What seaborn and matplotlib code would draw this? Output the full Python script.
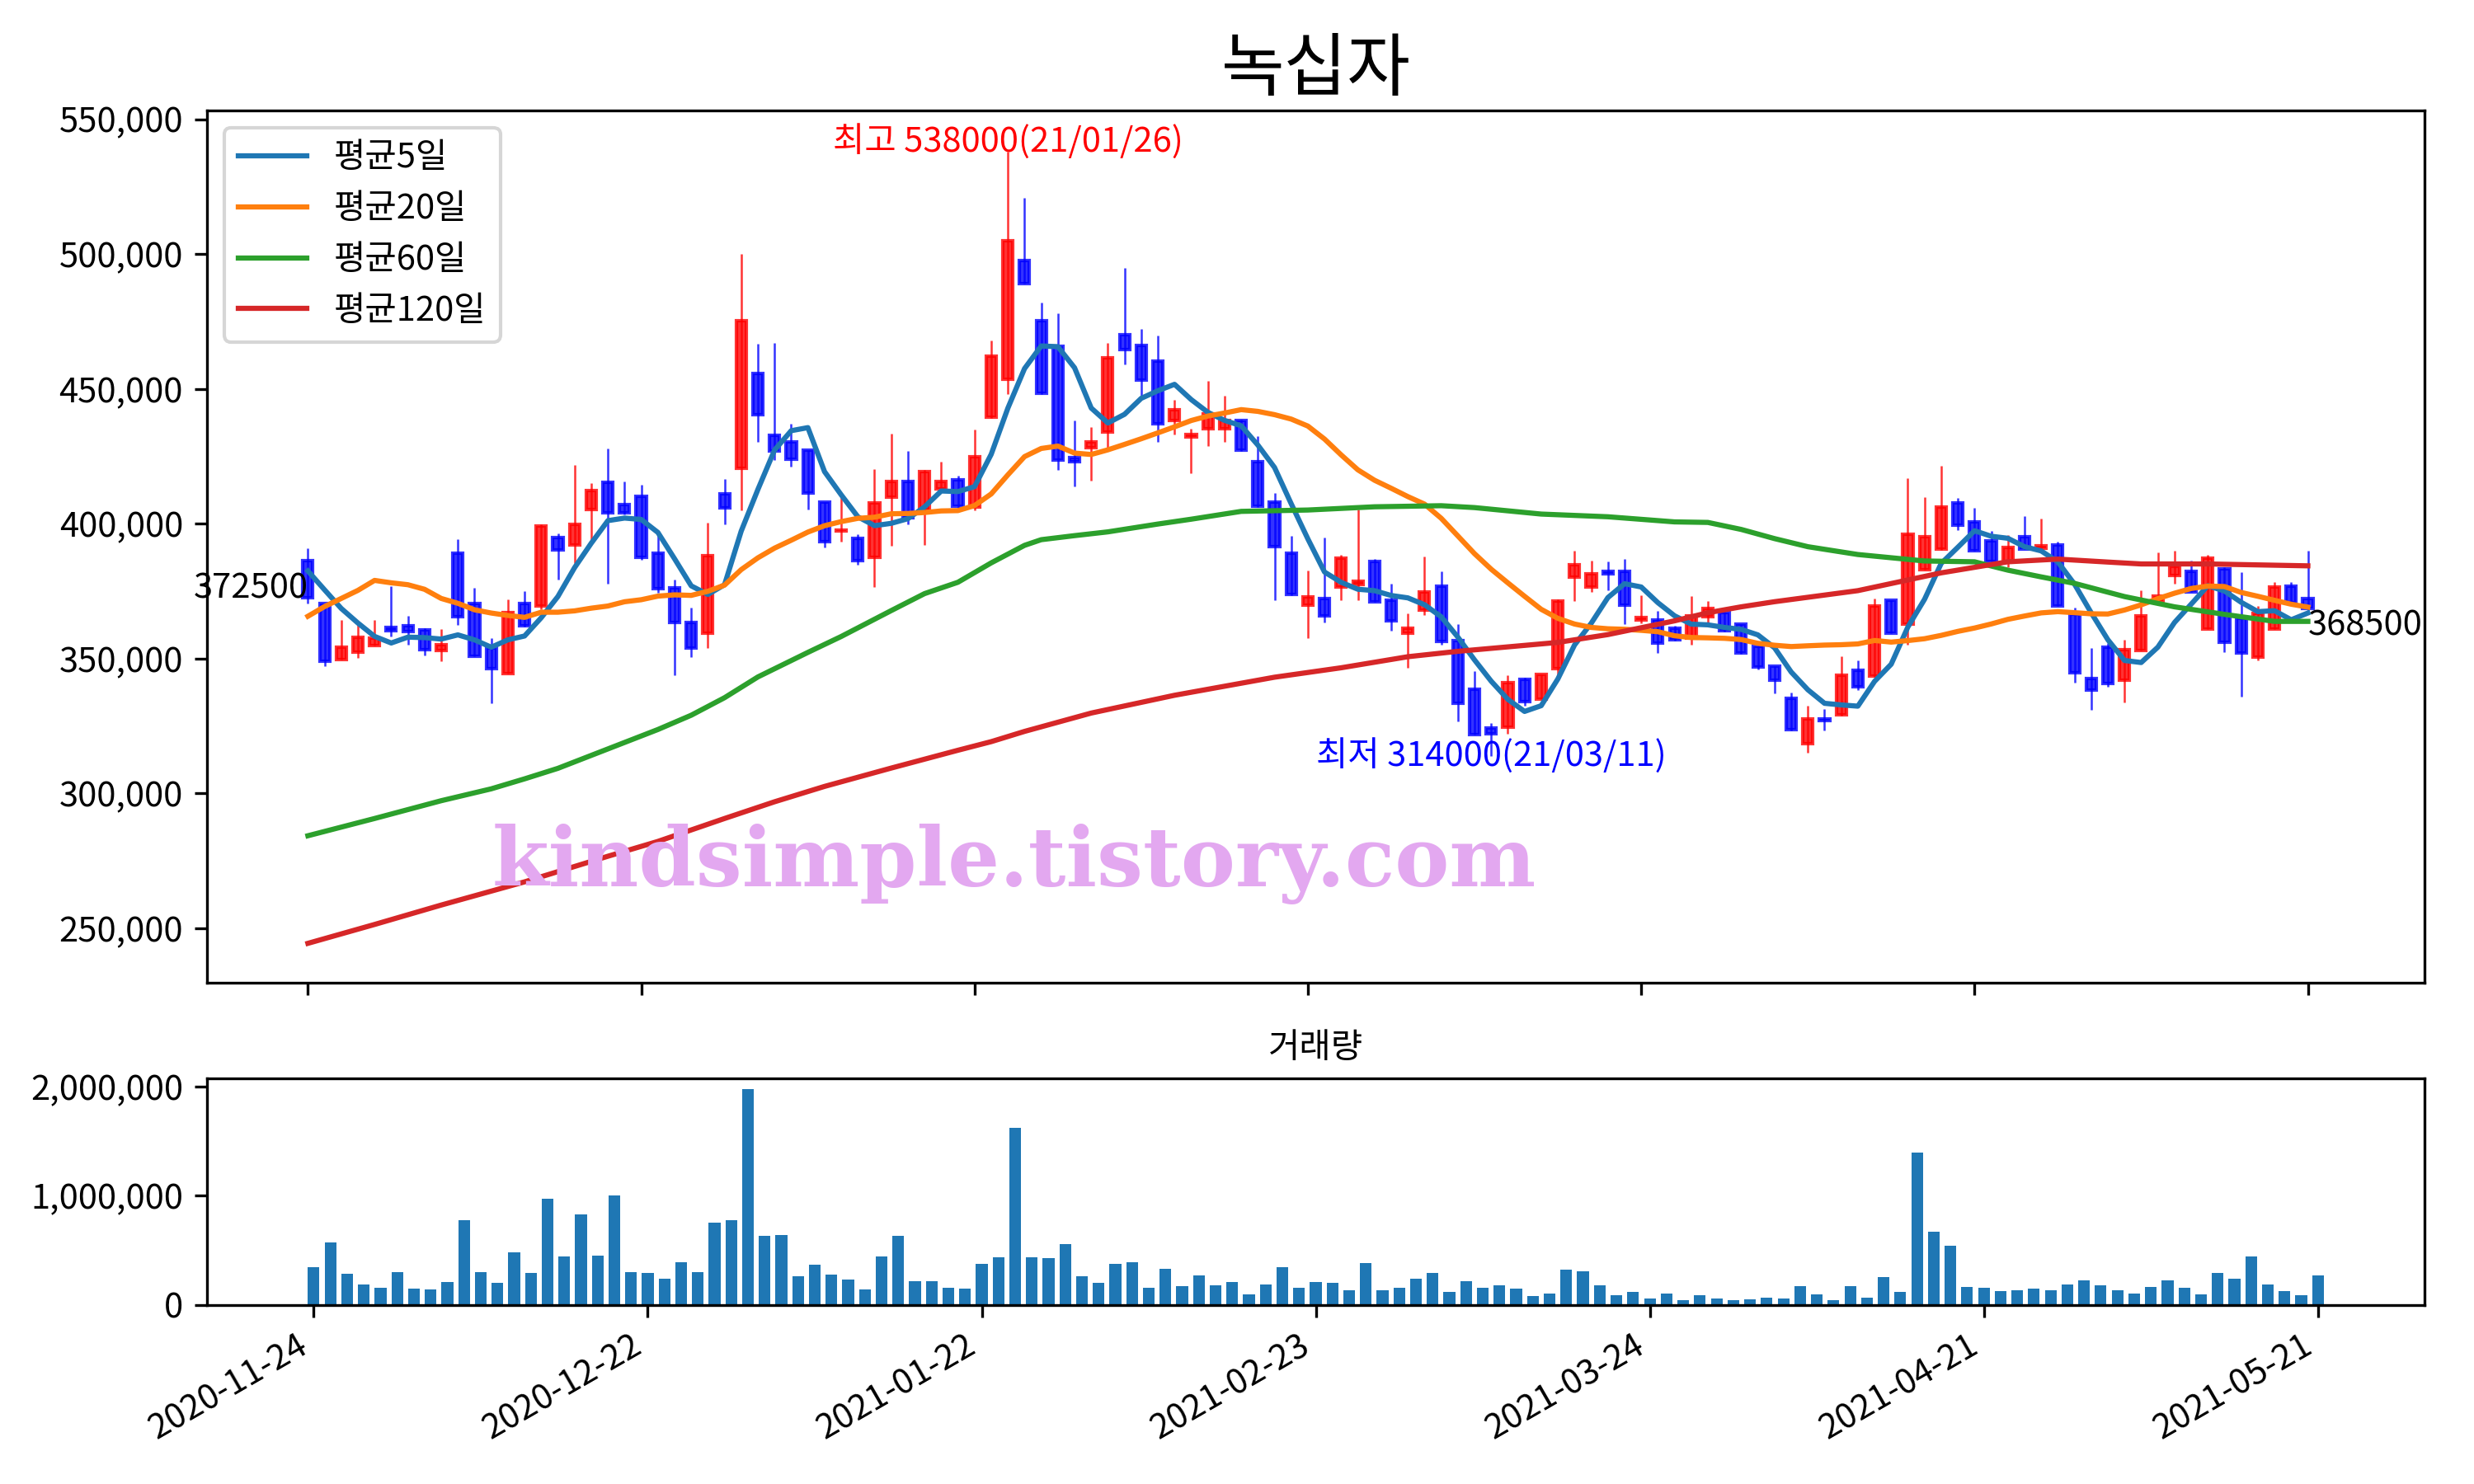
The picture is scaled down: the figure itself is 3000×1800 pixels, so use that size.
# -*- coding: utf-8 -*-
# 녹십자 일봉 + 이동평균 + 거래량
import numpy as np
import pandas as pd
import matplotlib
matplotlib.use("Agg")
import matplotlib.pyplot as plt
import seaborn as sns
from matplotlib.ticker import FuncFormatter

plt.rcParams['font.family'] = ['Noto Sans CJK KR', 'DejaVu Sans']
plt.rcParams['axes.unicode_minus'] = False

name = "녹십자"

# 거래일 (KRX 휴장일 제외)
holidays = ["2020-12-25", "2020-12-31", "2021-01-01", "2021-02-11",
            "2021-02-12", "2021-03-01", "2021-05-05", "2021-05-19"]
dates = pd.bdate_range("2020-11-24", "2021-05-21", freq="C", holidays=holidays)

opens = [386300, 370300, 349700, 352500, 354900, 361700, 362200, 360600, 353100, 389000,
         370300, 353900, 344300, 370300, 369400, 394800, 392000, 405300, 415400, 407100,
         410200, 389000, 376200, 363500, 359400, 411000, 420600, 455600, 432700, 430400,
         427200, 407900, 397200, 394500, 387700, 409900, 415800, 405400, 413000, 416300,
         406200, 439500, 453600, 497500, 475200, 465900, 424500, 428300, 434100, 470000,
         466200, 460400, 438200, 432200, 435200, 435400, 438200, 423100, 408100, 389000,
         369900, 372400, 376700, 377400, 385900, 371800, 359400, 368000, 376900, 356600,
         338700, 324400, 324700, 342400, 334900, 346400, 380300, 376700, 382300, 382300,
         364200, 364200, 361400, 357600, 365500, 367200, 362700, 354600, 347100, 335200,
         318600, 327500, 329300, 345600, 343400, 371600, 362700, 383100, 390500, 407800,
         400700, 393700, 385900, 395100, 390800, 392100, 366500, 342600, 354300, 342000,
         353000, 371300, 380800, 382500, 361100, 383300, 365000, 350700, 361100, 377000,
         372300]
highs = [390800, 370300, 364200, 362400, 364200, 376900, 365800, 361200, 361000, 394400,
         376300, 357600, 372100, 375100, 399900, 396300, 421700, 415000, 427900, 415800,
         414400, 395800, 379200, 368900, 400300, 416700, 500000, 466600, 467200, 437200,
         427200, 408100, 409900, 396200, 420400, 433400, 427000, 419900, 423100, 417700,
         434900, 467900, 538000, 520900, 482000, 478200, 438200, 435800, 467000, 494800,
         472400, 469700, 446100, 435400, 452900, 447400, 438600, 432400, 411300, 395600,
         382600, 394900, 388500, 405200, 386900, 377700, 366800, 387900, 382300, 362700,
         345400, 326200, 343800, 342800, 344100, 372100, 390000, 386400, 385900, 386900,
         373600, 367800, 362100, 373300, 371300, 367500, 362900, 354800, 347100, 337500,
         332600, 331300, 350900, 349200, 372300, 371600, 417000, 409800, 421600, 409600,
         406000, 397400, 395800, 402900, 401900, 393500, 368900, 354000, 355800, 357000,
         375200, 389400, 390000, 386200, 388400, 383800, 382100, 369600, 378400, 378400,
         390000]
lows = [370300, 347300, 349700, 350300, 354900, 358200, 355100, 351300, 348900, 362600,
        350900, 333400, 344300, 361800, 368400, 379300, 385400, 393800, 377900, 403500,
        386600, 374400, 343700, 350500, 353900, 399900, 405100, 430400, 423600, 421200,
        405400, 391200, 393500, 384900, 376700, 391700, 399900, 392200, 412000, 405800,
        404900, 439300, 448100, 489100, 448100, 419900, 414000, 416000, 428300, 459100,
        446800, 430400, 433100, 418800, 428700, 430400, 427000, 406200, 371700, 373500,
        357600, 363500, 371700, 371600, 370900, 360400, 346600, 366200, 355000, 326800,
        321700, 314000, 322200, 332400, 334900, 343600, 371300, 374700, 375400, 362900,
        363100, 352200, 356800, 355000, 363100, 360100, 351900, 346100, 337000, 323400,
        315000, 323400, 328800, 338300, 343100, 359400, 355000, 383100, 390300, 397600,
        390000, 385900, 383800, 390500, 390700, 369600, 341000, 331100, 339500, 333600,
        353000, 371300, 377700, 374700, 361100, 352500, 335900, 349200, 361100, 370600,
        367500]
closes = [372500, 349100, 354200, 357800, 357600, 360200, 360000, 353300, 355100, 365400,
          350900, 346400, 367000, 362200, 399300, 390200, 399900, 412300, 404100, 404100,
          387600, 375800, 363500, 353900, 388100, 405800, 475200, 440600, 427000, 424000,
          411500, 393500, 397600, 386300, 407600, 415800, 402100, 419500, 415800, 406500,
          424900, 462200, 505100, 489100, 448400, 423600, 423100, 430400, 461400, 464500,
          453200, 437200, 442300, 433100, 440900, 438200, 427200, 406500, 391500, 373700,
          373000, 365800, 387400, 378700, 371100, 364000, 361400, 374700, 356300, 333400,
          321700, 322000, 341000, 333900, 344100, 371300, 384900, 381300, 381500, 369900,
          365200, 355800, 357000, 366000, 368600, 360400, 352200, 346800, 342000, 323700,
          327500, 327100, 343800, 339700, 369600, 359400, 396100, 395100, 406300, 399600,
          390000, 385900, 391300, 390700, 391800, 369600, 344600, 338300, 340700, 353300,
          365800, 373100, 384100, 374700, 387400, 356000, 352200, 366800, 376400, 370600,
          368500]
volumes = [348000, 576000, 288000, 189000, 159000, 303000, 152000, 144000, 212000, 773000,
           303000, 205000, 485000, 295000, 970000, 447000, 826000, 455000, 1000000, 303000,
           295000, 242000, 394000, 303000, 750000, 780000, 1977000, 636000, 644000, 265000,
           371000, 280000, 235000, 144000, 447000, 636000, 220000, 220000, 159000, 152000,
           379000, 439000, 1621000, 439000, 432000, 561000, 265000, 205000, 379000, 394000,
           159000, 333000, 174000, 273000, 182000, 212000, 98000, 189000, 348000, 159000,
           212000, 205000, 136000, 386000, 136000, 159000, 242000, 295000, 121000, 220000,
           159000, 182000, 152000, 83000, 106000, 326000, 311000, 182000, 91000, 121000,
           61000, 106000, 45000, 91000, 61000, 45000, 53000, 68000, 61000, 174000,
           98000, 45000, 174000, 68000, 258000, 121000, 1394000, 667000, 545000, 167000,
           159000, 129000, 136000, 152000, 136000, 189000, 227000, 182000, 136000, 106000,
           167000, 227000, 159000, 98000, 295000, 242000, 447000, 189000, 129000, 91000,
           273000]

# 이동평균: 차트 시작 이전 구간이 필요한 앞부분은 그림에서 읽은 값
ma5_head = [382500, 375500, 368600, 363200]
ma20_head = [365700, 369300, 372300, 375300, 379000, 378100, 377400, 375700, 372300, 370500,
             368100, 366900, 366000, 365300, 367200, 367200, 367700, 368700, 369500]

# 60일/120일선은 그림에서 읽은 값 (거래일 순번, 값)
ma60_days = [0, 4, 8, 11, 13, 15, 18, 21, 23, 25, 27, 30, 32, 35, 37, 39, 41, 43, 44, 46,
             48, 51, 53, 56, 60, 64, 68, 70, 74, 78, 82, 84, 86, 88, 90, 93, 95, 97, 100,
             102, 104, 106, 109, 112, 115, 118, 120]
ma60_vals = [284300, 290700, 297300, 301700, 305400, 309300, 316500, 323700, 329000, 335500,
             343200, 352300, 358200, 367800, 374100, 378300, 385500, 392000, 394100, 395600,
             397000, 399900, 401700, 404600, 405100, 406300, 406700, 406000, 403600, 402600,
             400700, 400500, 397900, 394500, 391500, 388600, 387400, 386200, 385900,
             382800, 380300, 377900, 373000, 369200, 366400, 363800, 363800]
ma120_days = [0, 4, 8, 13, 18, 21, 25, 28, 31, 35, 39, 41, 43, 47, 52, 58, 62, 66, 69, 75,
              78, 82, 84, 86, 88, 93, 98, 102, 105, 108, 110, 114, 120]
ma120_vals = [244400, 251400, 258600, 267200, 276700, 282200, 290700, 296900, 302600, 309400,
              316000, 319200, 323000, 329800, 336400, 343100, 346600, 350700, 352700, 356000,
              358900, 364000, 367000, 369200, 371100, 375200, 381800, 385900, 386900, 385800,
              385100, 385100, 384400]

df = pd.DataFrame({"Open": opens, "High": highs, "Low": lows,
                   "Close": closes, "Volume": volumes}, index=dates)
df["x"] = np.arange(len(df))

ma5 = df["Close"].rolling(5).mean()
ma5.iloc[:len(ma5_head)] = ma5_head
ma20 = df["Close"].rolling(20).mean()
ma20.iloc[:len(ma20_head)] = ma20_head

fig = plt.figure(figsize=(10, 6), dpi=300)
ax = fig.add_axes([0.0837, 0.3378, 0.8963, 0.5878])
ax2 = fig.add_axes([0.0837, 0.1207, 0.8963, 0.1526])

# 캔들
up = df["Close"] >= df["Open"]
ccol = np.where(up, "r", "b")
ax.vlines(df["x"], df["Low"], df["High"], colors=ccol, linewidth=0.6, alpha=0.8)
ax.bar(df["x"], (df["Close"] - df["Open"]).abs(),
       bottom=np.minimum(df["Open"], df["Close"]), width=0.6,
       color=ccol, edgecolor=ccol, linewidth=1.0, alpha=0.8)

# 이동평균선
sns.lineplot(x=df["x"].values, y=ma5.values, ax=ax, color="C0", label="평균5일")
sns.lineplot(x=df["x"].values, y=ma20.values, ax=ax, color="C1", label="평균20일")
sns.lineplot(x=ma60_days, y=ma60_vals, ax=ax, color="C2", label="평균60일")
sns.lineplot(x=ma120_days, y=ma120_vals, ax=ax, color="C3", label="평균120일")

imax = int(np.argmax(df["High"].values))
imin = int(np.argmin(df["Low"].values))
ax.text(imax, df["High"].iloc[imax],
        f"최고 {df['High'].iloc[imax]}({dates[imax]:%y/%m/%d})",
        color="r", ha="center", fontsize=10)
ax.text(imin, df["Low"].iloc[imin],
        f"최저 {df['Low'].iloc[imin]}({dates[imin]:%y/%m/%d})",
        color="b", ha="center", va="center", fontsize=10)
ax.text(0, df["Close"].iloc[0], str(df["Close"].iloc[0]), ha="right", fontsize=10)
ax.text(len(df) - 1, df["Close"].iloc[-1], str(df["Close"].iloc[-1]),
        ha="left", va="top", fontsize=10)

ax.set_title(name, fontsize=20)
ax.legend(loc="upper left", fontsize=10)
ax.set_xlabel("")
ax.set_ylabel("")
ax.set_xlim(-6.05, 127.0)
ax.set_ylim(229800, 553300)
ticks = np.arange(0, len(df), 20)
ax.set_xticks(ticks)
ax.set_xticklabels([])
ax.yaxis.set_major_formatter(FuncFormatter(lambda v, p: f"{v:,.0f}"))
ax.tick_params(labelsize=10)

# 거래량
ax2.bar(df["x"], df["Volume"], width=0.7, color="C0")
ax2.set_title("거래량", fontsize=10)
ax2.set_xlim(-6.385, 126.385)
ax2.set_xticks(ticks)
ax2.set_xticklabels([d.strftime("%Y-%m-%d") for d in dates[ticks]],
                    rotation=30, ha="right")
ax2.yaxis.set_major_formatter(FuncFormatter(lambda v, p: f"{v:,.0f}"))
ax2.tick_params(labelsize=10)

fig.text(0.199, 0.403, "kindsimple.tistory.com", fontsize=23.8,
         family="DejaVu Serif", weight="bold", color="#E3A8F0")

fig.savefig("out.png", dpi=300)
